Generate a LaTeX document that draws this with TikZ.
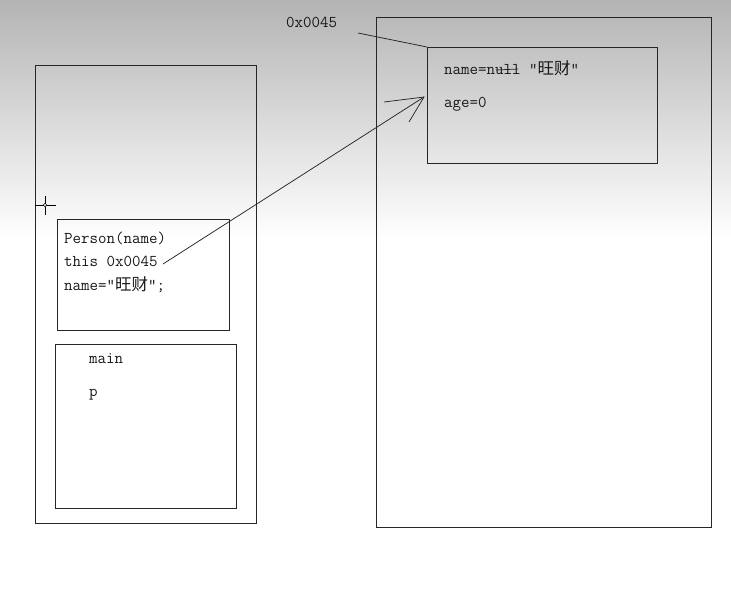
\documentclass[tikz,border=0pt]{standalone}
\usepackage{fontspec}
\newfontfamily\cjk{Noto Sans CJK SC}
\begin{document}
\begin{tikzpicture}[x=1pt,y=-1pt,
  box/.style={draw=black!85,line width=1pt,inner sep=0pt,anchor=north west},
  txt/.style={font=\ttfamily\fontsize{16.5}{17}\selectfont,inner sep=0pt,anchor=base west,text=black!90},
  wire/.style={draw=black!85,line width=0.75pt}]
\useasboundingbox (0,0) rectangle (731,600);
\fill[white] (0,0) rectangle (731,600);
\shade[top color={rgb,255:red,180;green,180;blue,180},bottom color=white] (0,0) rectangle (731,238);
% stack
\node[box,minimum width=221pt,minimum height=458pt] (stack) at (35,65) {};
\node[box,minimum width=172pt,minimum height=111pt] (frame) at (57,219) {};
\node[box,minimum width=181pt,minimum height=164pt] (mainf) at (55,344) {};
% heap
\node[box,minimum width=335pt,minimum height=510pt] (heap) at (376,17) {};
\node[box,minimum width=230pt,minimum height=116pt] (obj) at (427,47) {};
% texts
\node[txt] (addr) at (286,27) {0x0045};
\node[txt] (nm) at (444,74) {name=null “{\cjk 旺财}”};
\node[txt] (age) at (444,107) {age=0};
\node[txt] (pers) at (64,243) {Person(name)};
\node[txt] (this) at (64,266) {this 0x0045};
\node[txt] (nm2) at (64,290) {name=“{\cjk 旺财}”;};
\node[txt] (mainl) at (89,363) {main};
\node[txt] (pl) at (89,396) {p};
% strike on null
\draw[wire] (496,70) -- (518,69);
% address line
\coordinate (a0) at (358,33);
\draw[wire] (a0) -- (obj.north west);
% reference arrow
\coordinate (t0) at (163,264);
\coordinate (tip) at (424,97);
\coordinate (b1) at (384,102);
\coordinate (b2) at (409,122);
\draw[wire] (t0) -- (tip);
\draw[wire] (b1) -- (tip) -- (b2);
% cursor
\coordinate (cur) at (45,205);
\draw[black,line width=0.8pt] (35,205) -- (56,205) (45,196) -- (45,215);
\draw[black,fill=white,line width=0.6pt] (cur) circle (1.8);
\end{tikzpicture}
\end{document}
